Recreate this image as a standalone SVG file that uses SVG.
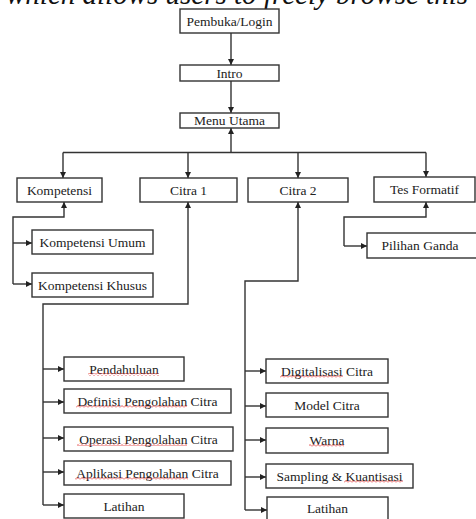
<svg xmlns="http://www.w3.org/2000/svg" width="476" height="519" viewBox="0 0 476 519">
<style>
.box{fill:#fff;stroke:#333;stroke-width:1.4}
.t{font-family:"Liberation Serif","Times New Roman",serif;font-size:13.5px;fill:#222;text-anchor:middle}
.c{fill:none;stroke:#333;stroke-width:1.4}
.sq{fill:url(#sq)}
</style>
<defs>
<marker id="ah" viewBox="0 0 6 6" refX="6" refY="3" markerWidth="6" markerHeight="6" markerUnits="userSpaceOnUse" orient="auto">
<path d="M0,0 L6,3 L0,6 z" fill="#222"/>
</marker>
<pattern id="sq" width="4" height="3" patternUnits="userSpaceOnUse">
<path d="M0 2.5 L2 0.5 L4 2.5" fill="none" stroke="#e03030" stroke-width="0.8"/>
</pattern>
</defs>
<rect width="476" height="519" fill="#fff"/>
<text x="6" y="4" textLength="462" lengthAdjust="spacingAndGlyphs" style="font-family:'Liberation Serif','Times New Roman',serif;font-size:29px;font-style:italic;fill:#111">which allows users to freely browse this</text>

<g id="connectors">
<path class="c" d="M231 33 V65" marker-end="url(#ah)"/>
<path class="c" d="M231 81 V113" marker-end="url(#ah)"/>
<path class="c" d="M231 152.5 V128" marker-end="url(#ah)"/>
<path class="c" d="M63 152.5 H426"/>
<path class="c" d="M63 152.5 V178" marker-end="url(#ah)"/>
<path class="c" d="M188 152.5 V178" marker-end="url(#ah)"/>
<path class="c" d="M298 152.5 V178" marker-end="url(#ah)"/>
<path class="c" d="M426 152.5 V177" marker-end="url(#ah)"/>
<!-- Kompetensi -->
<path class="c" d="M13 284 V217 H64 V202" marker-end="url(#ah)"/>
<path class="c" d="M13 243 H32" marker-end="url(#ah)"/>
<path class="c" d="M13 284 H32" marker-end="url(#ah)"/>
<!-- Citra 1 -->
<path class="c" d="M43 505 V304 H188 V202" marker-end="url(#ah)"/>
<path class="c" d="M43 369 H64" marker-end="url(#ah)"/>
<path class="c" d="M43 402 H64" marker-end="url(#ah)"/>
<path class="c" d="M43 438 H64" marker-end="url(#ah)"/>
<path class="c" d="M43 472 H64" marker-end="url(#ah)"/>
<path class="c" d="M43 505 H64" marker-end="url(#ah)"/>
<!-- Citra 2 -->
<path class="c" d="M245 510 V281 H298 V202" marker-end="url(#ah)"/>
<path class="c" d="M245 371 H266" marker-end="url(#ah)"/>
<path class="c" d="M245 406 H266" marker-end="url(#ah)"/>
<path class="c" d="M245 440 H266" marker-end="url(#ah)"/>
<path class="c" d="M245 477 H266" marker-end="url(#ah)"/>
<path class="c" d="M245 510 H267" marker-end="url(#ah)"/>
<!-- Tes Formatif -->
<path class="c" d="M344 246 V217 H426 V202" marker-end="url(#ah)"/>
<path class="c" d="M344 246 H367" marker-end="url(#ah)"/>
</g>

<g id="pembuka"><rect class="box" x="180" y="9" width="99" height="24"/><text class="t" x="229.5" y="25.5">Pembuka/Login</text></g>
<g id="intro"><rect class="box" x="180" y="65" width="99" height="16"/><text class="t" x="229.5" y="77.5">Intro</text></g>
<g id="menu"><rect class="box" x="180" y="113" width="99" height="15"/><text class="t" x="229.5" y="125">Menu Utama</text></g>

<g id="kompetensi"><rect class="box" x="17" y="178" width="85" height="24"/><text class="t" x="59.5" y="194.5">Kompetensi</text></g>
<g id="citra1"><rect class="box" x="140" y="178" width="97" height="24"/><text class="t" x="188.5" y="194.5">Citra 1</text></g>
<g id="citra2"><rect class="box" x="248" y="178" width="100" height="24"/><text class="t" x="298" y="194.5">Citra 2</text></g>
<g id="tes"><rect class="box" x="374" y="177" width="101" height="25"/><text class="t" x="424.5" y="194">Tes Formatif</text></g>

<g id="komp-umum"><rect class="box" x="32" y="230" width="121" height="24"/><text class="t" x="92.5" y="246.5">Kompetensi Umum</text></g>
<g id="komp-khusus"><rect class="box" x="32" y="273" width="121" height="24"/><text class="t" x="92.5" y="289.5">Kompetensi Khusus</text></g>
<g id="pilihan"><rect class="box" x="367" y="233" width="115" height="25"/><text class="t" x="420" y="250">Pilihan Ganda</text></g>

<g id="pendahuluan"><rect class="box" x="64" y="357" width="120" height="24"/><text class="t" x="124" y="373.5">Pendahuluan</text><rect class="sq" x="88" y="373" width="71" height="3"/></g>
<g id="definisi"><rect class="box" x="64" y="389" width="167" height="24"/><text class="t" x="147.5" y="405.5">Definisi Pengolahan Citra</text><rect class="sq" x="76" y="405" width="111" height="3"/></g>
<g id="operasi"><rect class="box" x="64" y="427" width="169" height="24"/><text class="t" x="148.5" y="443.5">Operasi Pengolahan Citra</text><rect class="sq" x="77" y="443" width="110" height="3"/></g>
<g id="aplikasi"><rect class="box" x="64" y="461" width="167" height="24"/><text class="t" x="147.5" y="477.5">Aplikasi Pengolahan Citra</text><rect class="sq" x="75" y="477" width="113" height="3"/></g>
<g id="latihan1"><rect class="box" x="64" y="494" width="120" height="24"/><text class="t" x="124" y="510.5">Latihan</text></g>

<g id="digitalisasi"><rect class="box" x="266" y="359" width="122" height="24"/><text class="t" x="327" y="375.5">Digitalisasi Citra</text><rect class="sq" x="280" y="375" width="63" height="3"/></g>
<g id="model"><rect class="box" x="266" y="393" width="122" height="24"/><text class="t" x="327" y="409.5">Model Citra</text></g>
<g id="warna"><rect class="box" x="266" y="428" width="122" height="25"/><text class="t" x="327" y="445">Warna</text><rect class="sq" x="309" y="444" width="35" height="3"/></g>
<g id="sampling"><rect class="box" x="266" y="464" width="147" height="24"/><text class="t" x="339.5" y="480.5">Sampling &amp; Kuantisasi</text><rect class="sq" x="344" y="480" width="59" height="3"/></g>
<g id="latihan2"><rect class="box" x="267" y="497" width="121" height="30"/><text class="t" x="327.5" y="513">Latihan</text></g>
</svg>
